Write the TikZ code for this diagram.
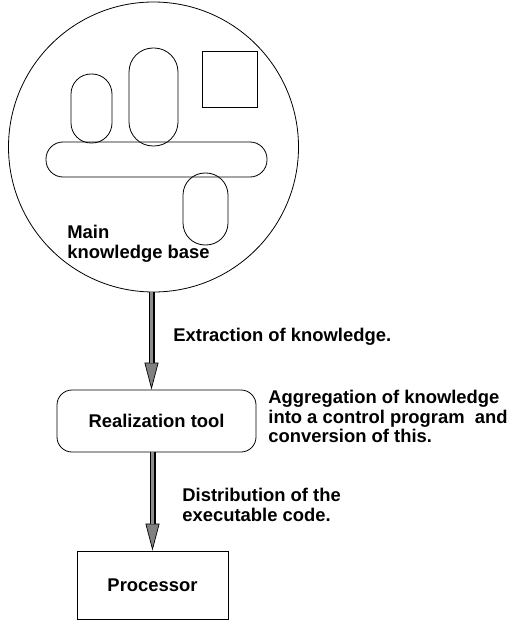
\documentclass[tikz,border=0pt]{standalone}
\usepackage{fontspec}
\setmainfont{Liberation Sans}
\usetikzlibrary{arrows.meta}
\tikzset{
  txt/.style={font=\fontsize{18.4}{19.5}\selectfont\bfseries},
  lbl/.style={txt,anchor=north west,inner sep=0pt,align=left},
  pill/.style={draw,rounded corners=#1,inner sep=0pt},
  flow/.style={line width=6pt,-{Triangle[length=27pt,width=14pt,line width=0.7pt,fill=black!50]},
    postaction={draw=black!45,line width=3.8pt,-,shorten >=27pt}}
}
\begin{document}
\begin{tikzpicture}[x=1pt,y=-1pt,line width=0.8pt]
		\useasboundingbox (0,0) rectangle (512,620);
		\node[draw,circle,minimum size=290pt,inner sep=0pt] (kb) at (153.5,147) {};
		\node[pill=20pt,minimum width=41pt,minimum height=69pt] (pa) at (91.5,108.5) {};
		\node[pill=24pt,minimum width=49pt,minimum height=98pt] (pb) at (153.5,97) {};
		\node[draw,minimum width=55pt,minimum height=56pt,inner sep=0pt] (sq) at (229.5,79) {};
		\node[pill=17pt,minimum width=221pt,minimum height=35pt] (bar) at (156.5,159.5) {};
		\node[pill=22pt,minimum width=45pt,minimum height=72pt] (pc) at (205.5,209) {};
		\node[lbl,font=\fontsize{18.4}{20}\selectfont\bfseries] (kbname) at (67,225) {Main\\knowledge base};
		\node[draw,txt,rounded corners=15pt,minimum width=199pt,minimum height=62pt] (tool) at (156.5,421) {Realization tool};
		\node[draw,txt,minimum width=151pt,minimum height=68pt] (proc) at (152.5,585) {Processor};
		\draw[flow] ([xshift=-2pt]kb.south) -- ([xshift=-2pt]kb.south |- tool.north);
		\draw[flow] (tool.south -| proc.north) -- (proc.north);
		\node[lbl] (extr) at (173,328) {Extraction of knowledge.};
		\node[lbl] (aggr) at (268,390) {Aggregation of knowledge\\into a control program\ \ and\\conversion of this.};
		\node[lbl] (dist) at (182,488) {Distribution of the\\executable code.};
\end{tikzpicture}
\end{document}
